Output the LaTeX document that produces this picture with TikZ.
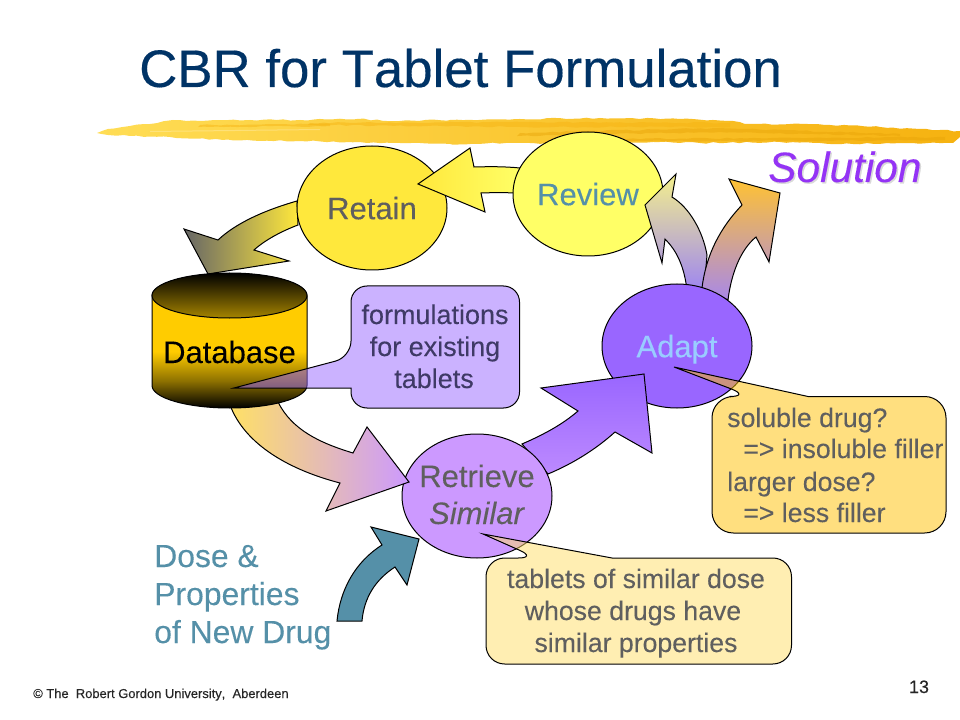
\documentclass[tikz,border=0pt]{standalone}
\usepackage{fontspec}
\setmainfont[Kerning=Off,FakeBold=0.12]{Liberation Sans}
\newfontfamily\titlefont[Kerning=Off,FakeBold=0.3]{Liberation Sans}
\usetikzlibrary{shapes.geometric,decorations.pathmorphing}
\definecolor{titleblue}{HTML}{003366}
\definecolor{retainY}{HTML}{FFE83C}
\definecolor{reviewY}{HTML}{FFFF66}
\definecolor{adaptP}{HTML}{9966FF}
\definecolor{retrP}{HTML}{CC99FF}
\definecolor{teal}{HTML}{5590A8}
\definecolor{txtgray}{HTML}{5F5F5F}
\definecolor{adapttxt}{HTML}{99CCFF}
\definecolor{solpurple}{HTML}{9433F5}
\definecolor{gold}{HTML}{FFCC00}
\definecolor{brushA}{HTML}{FFDD55}
\definecolor{brushB}{HTML}{FFCB28}
\definecolor{brushC}{HTML}{F6B210}
\definecolor{brushD}{HTML}{E8A408}
\definecolor{calloutP}{HTML}{9966FF}
\definecolor{calloutG}{HTML}{FFC000}
\definecolor{calloutL}{HTML}{FFDF66}
\definecolor{fmltxt}{HTML}{3F3A66}
\definecolor{revTop}{HTML}{F4F08C}
\definecolor{revMid}{HTML}{E2DDA6}
\definecolor{revBot}{HTML}{9E86F0}
\definecolor{solTop}{HTML}{FFC233}
\definecolor{solMid}{HTML}{E9A98A}
\definecolor{solBot}{HTML}{A888E8}
\pgfdeclareverticalshading{dbbody}{100bp}{color(0bp)=(black); color(25bp)=(black); color(35bp)=(gold!55!black); color(46bp)=(gold); color(100bp)=(gold)}
\tikzset{
  blob/.style={ellipse,draw=black,line width=.75pt,inner sep=0pt,minimum width=112.5pt,minimum height=93pt,align=center,text depth=0pt,font=\fontsize{23.25}{27.75}\selectfont},
  blockarrow/.style={draw=black,line width=.75pt,line join=miter},
  callout/.style={draw=black,line width=.75pt,fill opacity=.5,draw opacity=1},
  lbl/.style={inner sep=0pt,anchor=base,font=\fontsize{20}{24}\selectfont},
  lblw/.style={inner sep=0pt,anchor=base west,font=\fontsize{20}{24}\selectfont},
  fmlbl/.style={inner sep=0pt,anchor=base,text=fmltxt,font=\fontsize{20.25}{24}\selectfont},
  bigtxt/.style={inner sep=0pt,anchor=base,font=\fontsize{23.25}{27.75}\selectfont},
  dosetxt/.style={inner sep=0pt,anchor=base west,text=teal,font=\fontsize{23.9}{28}\selectfont},
  rough/.style={decorate,decoration={random steps,segment length=5pt,amplitude=.55pt}},
  streak/.style={rough,opacity=.45}
}
\begin{document}
\begin{tikzpicture}[x=.75pt,y=-.75pt]
\useasboundingbox (0,0) rectangle (960,720);
\fill[white] (0,0) rectangle (960,720);
\pgfmathsetseed{7}
% brush stroke
\path[rough,left color=brushA,middle color=brushB,right color=brushC] (97,133) -- (108,129) -- (130,126) -- (150,124) -- (173,120) -- (200,121) -- (250,120) -- (300,120) -- (357,119) -- (400,121) -- (450,120) -- (520,119) -- (600,118) -- (680,119) -- (733,121) -- (745,124) -- (790,124) -- (830,125) -- (880,127) -- (920,129) -- (960,131) -- (960,137) -- (953,143) -- (900,143) -- (853,144) -- (780,142) -- (700,143) -- (653,142) -- (600,144) -- (520,143) -- (450,144) -- (400,143) -- (300,141) -- (223,140) -- (170,137) -- (130,136) -- (108,135) -- cycle;
\fill[brushC,streak] (310,123) -- (520,122) -- (730,123) -- (730,127) -- (520,127) -- (310,125) -- cycle;
\fill[brushD,streak] (520,133) -- (720,128) -- (900,134) -- (900,136) -- (720,132) -- (520,136) -- cycle;
\fill[brushD,streak] (600,139) -- (800,138) -- (945,137) -- (945,140) -- (800,141) -- (600,141) -- cycle;
\fill[white,opacity=.25] (150,131) -- (320,129) -- (320,130) -- (150,132) -- cycle;
\fill[brushC,streak] (200,125) -- (330,124) -- (330,126) -- (200,127) -- cycle;
% title
\node[inner sep=0pt,anchor=base west,text=titleblue,font=\titlefont\fontsize{39.6}{46}\selectfont] (title) at (139,87) {CBR for Tablet Formulation};
% Retain -> Database
\path[blockarrow,left color=black!60,right color=retainY] (297,201) .. controls (262,211) and (235,224) .. (218,240) -- (184,229) -- (208,274) -- (289,261) -- (254,250) .. controls (265,240) and (282,231) .. (298,225) -- cycle;
\node[blob,fill=retainY,text=txtgray] (retain) at (372,208) {Retain};
% Review -> Retain
\path[blockarrow,left color=retainY,right color=reviewY] (520,168) .. controls (505,166.5) and (490,166.5) .. (474,167) -- (470,148) -- (418,184) -- (485,212) -- (481,193) .. controls (495,192.5) and (505,192.5) .. (514,193) -- cycle;
\node[blob,fill=reviewY,text=teal] (review) at (588,194) {Review};
% Adapt -> Review
\path[blockarrow,top color=revTop,middle color=revMid,bottom color=revBot] (687,290) .. controls (684,265) and (676,250) .. (665,239) -- (662,263) -- (645,205) -- (676,174) -- (672,197) .. controls (690,208) and (703,232) .. (707,255) -- (704,290) -- cycle;
% Adapt -> Solution
\path[blockarrow,top color=solTop,middle color=solMid,bottom color=solBot] (702,288) .. controls (706,255) and (720,228) .. (742,205) -- (729,179) -- (780,193) -- (769,262) -- (756,237) .. controls (740,250) and (731,275) .. (728,300) -- cycle;
\node[blob,fill=adaptP,text=adapttxt] (adapt) at (677,346) {Adapt};
% Retrieve -> Adapt
\path[blockarrow,top color=adaptP,bottom color=retrP!70!adaptP] (522,444) .. controls (545,434) and (563,424) .. (578,411) -- (541,388) -- (644,374) -- (652,453) -- (615,432) .. controls (595,450) and (572,464) .. (548,474) -- cycle;
\node[blob,fill=retrP] (retrieve) at (477,496) {};
\node[bigtxt,text=txtgray] (rt1) at (477,487) {Retrieve};
\node[bigtxt,text=txtgray] (rt2) at (477,524) {\textit{Similar}};
% Database -> Retrieve
\path[blockarrow,left color=gold!60!white,right color=retrP] (230,405) .. controls (245,445) and (290,470) .. (340,483) -- (326,511) -- (409,482) -- (367,427) -- (353,453) .. controls (320,443) and (292,430) .. (278,402) -- cycle;
% New drug -> Retrieve
\path[blockarrow,fill=teal] (337,621) .. controls (340,590) and (355,562) .. (382,545) -- (371,527) -- (419,539) -- (407,585) -- (395,567) .. controls (375,580) and (364,598) .. (362,621) -- cycle;
% Database
\path[shading=dbbody,draw=black,line width=.75pt] (152,296) -- (152,385.5) arc[start angle=180,end angle=0,x radius=77.5,y radius=22.5] -- (307,296) arc[start angle=0,end angle=-180,x radius=77.5,y radius=22.5] -- cycle;
\path[top color=black,bottom color=gold!65!black,draw=black,line width=.75pt] (229.5,295.5) ellipse[x radius=77.5,y radius=22.5];
\node[bigtxt,text=black] (dbname) at (229.5,363) {Database};
% Callouts
\path[callout,fill=calloutP] (351,357) -- (234,388) -- (351,388) [rounded corners=12pt] -- (351,408) -- (519.5,408) -- (519.5,286) -- (351,286) -- cycle;
\node[fmlbl] (f1) at (435,324) {formulations};
\node[fmlbl] (f2) at (435,356) {for existing};
\node[fmlbl] (f3) at (434,388) {tablets};
\path[callout,fill=calloutG] (751,396.5) -- (674,367) -- (808,396.5) [rounded corners=16pt] -- (946,396.5) -- (946,533) -- (712,533) -- (712,396.5) -- cycle;
\node[lblw,text=txtgray] (s1) at (727,427) {soluble drug?};
\node[lblw,text=txtgray] (s2) at (743,458) {=> insoluble filler};
\node[lblw,text=txtgray] (s3) at (727,491) {larger dose?};
\node[lblw,text=txtgray] (s4) at (743,522) {=> less filler};
\path[callout,fill=calloutL] (537,558) -- (483,534) -- (612,558) [rounded corners=14pt] -- (791.5,558) -- (791.5,664) -- (486,664) -- (486,558) -- cycle;
\node[lbl,text=txtgray] (t1) at (636,588) {tablets of similar dose};
\node[lbl,text=txtgray] (t2) at (633,620) {whose drugs have};
\node[lbl,text=txtgray] (t3) at (636,652) {similar properties};
% free labels
\node[dosetxt] (d1) at (154,567) {Dose \&};
\node[dosetxt] (d2) at (154,605) {Properties};
\node[dosetxt] (d3) at (154,643) {of New Drug};
\node[inner sep=0pt,anchor=base west,text=black!15,font=\fontsize{31.8}{36}\selectfont\itshape] (solshadow) at (769.5,183.5) {Solution};
\node[inner sep=0pt,anchor=base west,text=solpurple,font=\fontsize{31.8}{36}\selectfont\itshape] (solution) at (768,182) {Solution};
\node[inner sep=0pt,anchor=base west,text=black!85,font=\fontsize{9.7}{12}\selectfont] (footer) at (33,698) {©~The\ \ Robert Gordon University,\ \ Aberdeen};
\node[inner sep=0pt,anchor=base,text=black!85,font=\fontsize{13.5}{16}\selectfont] (pageno) at (919,693) {13};
\end{tikzpicture}
\end{document}
